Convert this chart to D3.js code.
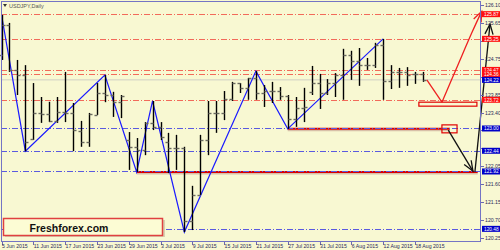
<!DOCTYPE html>
<html>
<head>
<meta charset="utf-8">
<title>USDJPY Daily</title>
<script src="https://d3js.org/d3.v7.min.js"></script>
<style>
  body { margin: 0; background: #f8f8d2; }
  svg { display: block; font-family: "Liberation Sans", Arial, sans-serif; }
</style>
</head>
<body>
<svg width="500" height="250"></svg>
<script>
// daily bars, 5 Jun .. 19 Aug 2015
const open  = [124.85,125.60,124.47,124.34,122.74,123.39,123.36,123.19,123.41,123.39,122.94,122.66,123.34,123.89,123.84,123.66,
               122.71,122.54,122.46,123.14,123.04,122.66,122.51,122.51,120.68,121.33,122.71,123.39,123.39,123.74,124.14,124.02,
               124.27,123.89,123.94,123.94,123.82,123.24,123.51,123.92,124.14,123.89,124.14,124.34,124.85,124.69,124.59,124.59,
               125.10,124.19,124.42,124.42,124.37,124.37];
const high  = [125.85,125.65,124.72,124.59,124.14,123.79,123.67,123.79,124.42,123.64,123.19,123.39,124.14,124.34,123.92,123.84,
               122.91,122.76,123.16,123.69,123.16,122.89,122.84,122.54,121.56,122.84,123.69,123.69,123.94,124.17,124.14,124.27,
               124.44,124.09,124.17,124.04,123.84,123.79,124.02,124.57,124.37,124.24,124.39,125.00,124.95,125.02,124.77,125.15,
               125.25,124.59,124.52,124.54,124.42,124.42];
const low   = [124.72,124.42,123.84,122.43,122.71,123.14,123.16,123.14,123.16,122.43,122.54,122.54,123.34,123.66,123.29,123.26,
               121.96,121.91,122.33,122.96,122.71,121.88,121.96,120.40,120.45,121.33,122.33,122.89,123.21,123.69,123.89,123.72,
               123.72,123.54,123.64,123.72,122.99,123.04,123.16,123.84,123.49,123.84,123.79,123.72,124.22,124.07,124.47,124.52,
               123.72,123.99,124.02,124.07,124.12,124.17];
const close = [125.60,124.47,124.34,122.66,123.39,123.36,123.19,123.41,123.39,122.96,122.66,123.36,123.89,123.84,123.66,123.81,
               122.54,122.46,123.14,123.04,122.79,122.51,122.51,120.68,121.33,122.71,123.39,123.39,123.74,124.14,124.02,124.27,
               123.89,123.94,123.94,123.82,123.24,123.51,123.54,124.14,123.89,124.14,124.34,124.85,124.69,124.59,124.59,125.10,
               124.19,124.42,124.42,124.34,124.37,124.22];

const dateIdx   = [0, 4, 8, 12, 16, 20, 24, 28, 32, 36, 40, 44, 48, 52];
const dateNames = ["5 Jun 2015","11 Jun 2015","17 Jun 2015","23 Jun 2015","29 Jun 2015","3 Jul 2015","9 Jul 2015",
                   "15 Jul 2015","21 Jul 2015","27 Jul 2015","31 Jul 2015","6 Aug 2015","12 Aug 2015","18 Aug 2015"];
const priceTicks = [126.10,125.65,125.20,124.75,124.30,123.85,123.40,122.95,122.50,122.05,121.60,121.15,120.70,120.25];

const zigzag = [[0,125.85],[3,122.43],[13,124.34],[17,121.91],[19,123.69],[23,120.40],[32,124.44],[36,122.99],[48,125.25]];
const resLevels = [125.87,125.25,124.47,124.36,123.72];
const supLevels = [123.00,122.44,121.92,120.48];
const lastPrice = 124.22;

// hand drawn objects (bar index, price)
const redLines   = [[[36,122.99],[56.4,122.99]], [[17,121.91],[59.9,121.91]]];
const redV       = [[53.5,124.22],[55.4,123.66]];
const redUp      = [[55.4,123.66],[57.4,124.59],[59.2,125.42],[60.4,125.94]];
const blackArrows = [[[56.2,122.96],[59.3,121.93]], [[59.55,121.91],[61.45,125.62]]];
const redRects   = [[55.4,123.09,57.3,122.89],[52.5,123.66,59.8,123.56]];

const svg = d3.select("svg");
const x = d3.scaleLinear().domain([0, 60]).range([1.5, 478.5]);
const y = d3.scaleLinear().domain([120.175, 126.175]).range([241, 2]);
const px = v => Math.round(x(v)) + 0.5;

svg.append("rect").attr("width", 500).attr("height", 250).attr("fill", "#f8f8d2");

// levels
svg.append("line").attr("x1", 1).attr("x2", 480).attr("y1", y(lastPrice)).attr("y2", y(lastPrice))
  .attr("stroke", "#cfcfc4").attr("stroke-width", 1);

svg.selectAll(".res").data(resLevels).join("line")
  .attr("x1", 1).attr("x2", 480)
  .attr("y1", d => Math.round(y(d)) + 0.5).attr("y2", d => Math.round(y(d)) + 0.5)
  .attr("stroke", "#f26a5a").attr("stroke-dasharray", "6,2,1,2");

// thick red lines under the blue levels
redLines.forEach(l => {
  svg.append("line")
    .attr("x1", x(l[0][0])).attr("x2", x(l[1][0]))
    .attr("y1", y(l[0][1]) + 1.5).attr("y2", y(l[1][1]) + 1.5)
    .attr("stroke", "#d8c0a8").attr("stroke-width", 2);
  svg.append("line")
    .attr("x1", x(l[0][0])).attr("x2", x(l[1][0]))
    .attr("y1", y(l[0][1])).attr("y2", y(l[1][1]))
    .attr("stroke", "#d80000").attr("stroke-width", 2);
});

svg.selectAll(".sup").data(supLevels).join("line")
  .attr("x1", 1).attr("x2", 480)
  .attr("y1", d => Math.round(y(d)) + 0.5).attr("y2", d => Math.round(y(d)) + 0.5)
  .attr("stroke", "#5a5ae0").attr("stroke-dasharray", "6,2,1,2");

// zigzag
svg.append("path")
  .attr("d", d3.line().x(d => x(d[0])).y(d => y(d[1]))(zigzag))
  .attr("fill", "none").attr("stroke", "#1a1aff").attr("stroke-width", 1.2);

// bars
const idx = d3.range(open.length);
const bars = svg.append("g");
bars.selectAll(".hl").data(idx).join("line")
  .attr("x1", i => px(i)).attr("x2", i => px(i))
  .attr("y1", i => y(high[i])).attr("y2", i => y(low[i]))
  .attr("stroke", "#000").attr("stroke-width", 1.4);
bars.selectAll(".op").data(idx).join("line")
  .attr("x1", i => px(i) - 3).attr("x2", i => px(i))
  .attr("y1", i => Math.round(y(open[i])) + 0.5).attr("y2", i => Math.round(y(open[i])) + 0.5)
  .attr("stroke", "#6a6a60").attr("stroke-width", 1.4);
bars.selectAll(".cl").data(idx).join("line")
  .attr("x1", i => px(i)).attr("x2", i => px(i) + 3)
  .attr("y1", i => Math.round(y(close[i])) + 0.5).attr("y2", i => Math.round(y(close[i])) + 0.5)
  .attr("stroke", "#6a6a60").attr("stroke-width", 1.4);

// rectangles
redRects.forEach(r => {
  svg.append("rect")
    .attr("x", x(r[0])).attr("y", y(r[1]))
    .attr("width", x(r[2]) - x(r[0])).attr("height", y(r[3]) - y(r[1]))
    .attr("fill", "none").attr("stroke", "#e00000").attr("stroke-width", 1.2);
});

function arrowHead(p0, p1, color) {
  const ang = Math.atan2(p1[1] - p0[1], p1[0] - p0[0]);
  const len = 11, spread = 0.38;
  const pts = [-spread, spread].map(a => [p1[0] - len * Math.cos(ang + a), p1[1] - len * Math.sin(ang + a)]);
  svg.append("path")
    .attr("d", `M${pts[0]}L${p1}L${pts[1]}`)
    .attr("fill", "none").attr("stroke", color).attr("stroke-width", 1.3);
}

// red forecast
const rl = d3.line().x(d => x(d[0])).y(d => y(d[1]));
svg.append("path").attr("d", rl(redV)).attr("fill", "none").attr("stroke", "#ee2020").attr("stroke-width", 1.3);
svg.append("path").attr("d", rl.curve(d3.curveCatmullRom)(redUp))
  .attr("fill", "none").attr("stroke", "#ee2020").attr("stroke-width", 1.3);
const rn = redUp.length;
arrowHead([x(redUp[rn - 2][0]), y(redUp[rn - 2][1])], [x(redUp[rn - 1][0]), y(redUp[rn - 1][1])], "#ee2020");

// black arrows
blackArrows.forEach(a => {
  const p0 = [x(a[0][0]), y(a[0][1])], p1 = [x(a[1][0]), y(a[1][1])];
  svg.append("line").attr("x1", p0[0]).attr("y1", p0[1]).attr("x2", p1[0]).attr("y2", p1[1])
    .attr("stroke", "#111").attr("stroke-width", 1.3);
  arrowHead(p0, p1, "#111");
});

// frame
svg.append("rect").attr("x", 1.5).attr("y", 1.5).attr("width", 479).attr("height", 240)
  .attr("fill", "none").attr("stroke", "#7474c4");

// price axis: tick labels hidden where a coloured tag sits on top of them
const tags = resLevels.concat(supLevels, [lastPrice]);
const freeTicks = priceTicks.filter(t => tags.every(v => Math.abs(y(v) - y(t)) > 5));
const pa = svg.append("g");
pa.selectAll("line").data(priceTicks).join("line")
  .attr("x1", 481).attr("x2", 484)
  .attr("y1", d => Math.round(y(d)) + 0.5).attr("y2", d => Math.round(y(d)) + 0.5)
  .attr("stroke", "#6a6ab0");
pa.selectAll("text").data(freeTicks).join("text")
  .attr("x", 485).attr("y", d => y(d) + 2)
  .attr("font-size", 5.2).attr("fill", "#2a2a5a")
  .text(d => d.toFixed(2));

function priceTag(v, bg) {
  svg.append("rect").attr("x", 482).attr("y", y(v) - 3).attr("width", 18).attr("height", 6).attr("fill", bg);
  svg.append("text").attr("x", 484).attr("y", y(v) + 1.8).attr("font-size", 4.8).attr("fill", "#fff")
    .text(v.toFixed(2));
}
resLevels.forEach(v => priceTag(v, "#ff1010"));
supLevels.forEach(v => priceTag(v, "#0000c8"));
priceTag(lastPrice, "#0000c8");

// date axis
const da = svg.append("g");
da.selectAll("line").data(dateIdx).join("line")
  .attr("x1", i => px(i)).attr("x2", i => px(i)).attr("y1", 242).attr("y2", 245)
  .attr("stroke", "#6a6ab0");
da.selectAll("text").data(dateIdx).join("text")
  .attr("x", i => x(i) + 0.5).attr("y", 248)
  .attr("font-size", 5.2).attr("fill", "#2a2a5a")
  .text((i, k) => dateNames[k]);

// title
svg.append("path").attr("d", "M3,4L7,4L5,7Z").attr("fill", "#333");
svg.append("text").attr("x", 9).attr("y", 7.5).attr("font-size", 5.5).attr("fill", "#555")
  .text("USDJPY,Daily");

// watermark
svg.append("rect").attr("x", 5).attr("y", 220).attr("width", 160).attr("height", 17).attr("fill", "#d8d0b0");
svg.append("rect").attr("x", 3.5).attr("y", 218.5).attr("width", 159).attr("height", 17)
  .attr("fill", "#fcfcd4").attr("stroke", "#e04040").attr("stroke-width", 1.5);
svg.append("text").attr("x", 69).attr("y", 231.5).attr("text-anchor", "middle")
  .attr("font-size", 10.5).attr("font-weight", "bold").attr("fill", "#111")
  .text("Freshforex.com");
</script>
</body>
</html>
